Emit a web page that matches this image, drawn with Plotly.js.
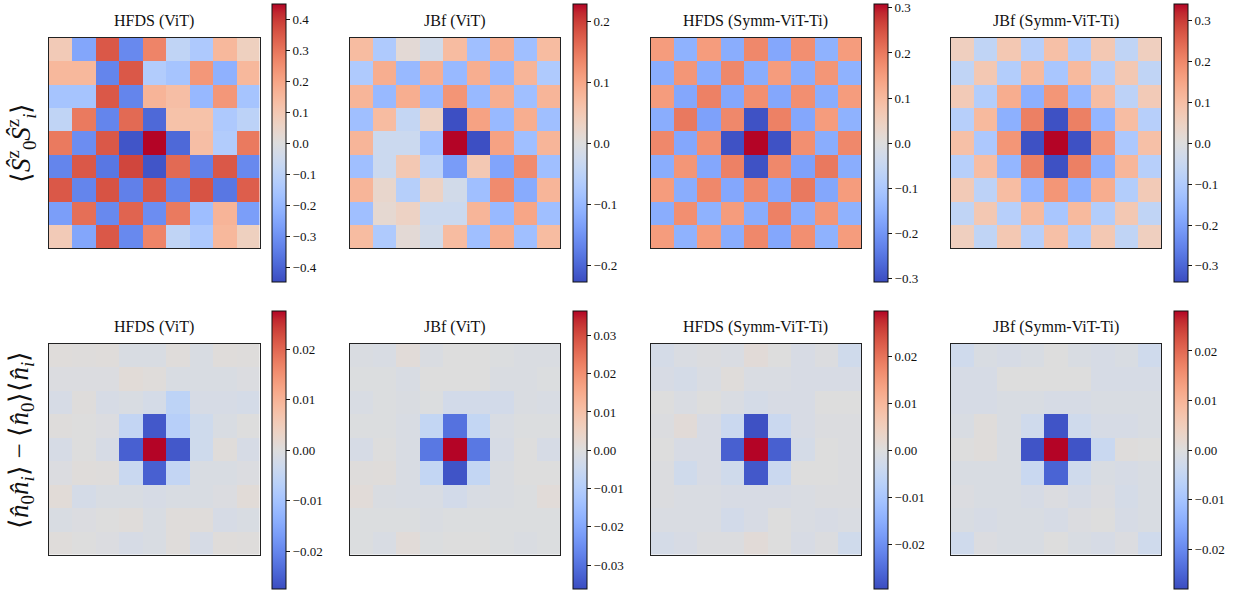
<!DOCTYPE html>
<html><head><meta charset="utf-8">
<script src="https://cdn.plot.ly/plotly-3.0.1.min.js"></script>
<style>body{margin:0;background:#fff}</style>
</head><body><div id="chart" style="width:1247px;height:590px"></div>
<script>
// ---- data ----
const panelTitles = ["HFDS (ViT)", "JBf (ViT)", "HFDS (Symm-ViT-Ti)", "JBf (Symm-ViT-Ti)"];
const rowLabels = ["⟨<i>Ŝ</i><sup>z</sup><sub>0</sub><i>Ŝ</i><sup>z</sup><sub><i>i</i></sub>⟩",
                   "⟨<i>n̂</i><sub>0</sub><i>n̂</i><sub><i>i</i></sub>⟩ − ⟨<i>n̂</i><sub>0</sub>⟩⟨<i>n̂</i><sub><i>i</i></sub>⟩"];

const szHFDSViT = [
 [0.09,-0.25,0.35,-0.32,0.27,-0.09,-0.14,0.15,0.07],
 [0.15,0.15,-0.33,0.35,-0.13,-0.16,0.23,-0.22,0.15],
 [-0.16,-0.16,0.35,-0.33,0.16,0.13,-0.20,0.23,-0.16],
 [-0.09,0.29,-0.33,0.32,-0.39,0.12,0.12,-0.14,-0.10],
 [0.29,-0.31,0.35,-0.43,0.449,-0.39,0.13,-0.13,0.29],
 [-0.33,0.35,-0.36,0.38,-0.43,0.32,-0.34,0.35,-0.32],
 [0.35,-0.33,0.36,-0.34,0.35,-0.33,0.36,-0.36,0.34],
 [-0.27,0.31,-0.32,0.33,-0.31,0.29,-0.18,0.16,-0.27],
 [0.09,-0.25,0.35,-0.32,0.27,-0.09,-0.14,0.15,0.07]
];
const szJBfViT = [
 [0.07,-0.07,0.01,-0.02,0.07,-0.09,0.09,-0.09,0.07],
 [-0.07,0.09,-0.10,0.09,-0.10,0.09,-0.10,0.08,-0.07],
 [0.08,-0.10,0.09,-0.10,0.12,-0.10,0.09,-0.09,0.08],
 [-0.09,0.07,-0.04,0.03,-0.225,0.105,-0.10,0.09,-0.09],
 [0.08,-0.03,-0.03,-0.09,0.228,-0.225,0.105,-0.09,0.08],
 [-0.09,-0.03,0.05,-0.05,-0.14,0.05,-0.13,0.13,-0.09],
 [0.08,0.02,-0.06,0.03,-0.02,-0.09,0.13,-0.12,0.08],
 [-0.09,0.014,0.03,-0.03,-0.03,0.08,-0.10,0.10,-0.09],
 [0.07,-0.07,0.01,-0.02,0.07,-0.09,0.09,-0.09,0.07]
];
const szHFDSSymm = [
 [0.15,-0.15,0.15,-0.16,0.18,-0.17,0.17,-0.15,0.15],
 [-0.16,0.16,-0.16,0.18,-0.16,0.15,-0.16,0.16,-0.15],
 [0.15,-0.17,0.19,-0.17,0.17,-0.17,0.17,-0.16,0.15],
 [-0.16,0.20,-0.18,0.18,-0.30,0.19,-0.17,0.15,-0.15],
 [0.18,-0.17,0.17,-0.30,0.308,-0.30,0.17,-0.16,0.18],
 [-0.16,0.16,-0.17,0.19,-0.30,0.18,-0.18,0.20,-0.16],
 [0.15,-0.16,0.18,-0.17,0.18,-0.17,0.20,-0.17,0.15],
 [-0.16,0.17,-0.15,0.15,-0.16,0.19,-0.16,0.16,-0.15],
 [0.15,-0.15,0.15,-0.16,0.18,-0.17,0.17,-0.15,0.15]
];
const szJBfSymm = [
 [0.054,-0.068,0.075,-0.088,0.095,-0.095,0.075,-0.068,0.054],
 [-0.068,0.075,-0.095,0.109,-0.116,0.109,-0.088,0.075,-0.068],
 [0.068,-0.095,0.136,-0.170,0.177,-0.150,0.102,-0.075,0.068],
 [-0.088,0.109,-0.170,0.211,-0.333,0.211,-0.156,0.102,-0.088],
 [0.095,-0.109,0.177,-0.333,0.340,-0.333,0.177,-0.109,0.095],
 [-0.088,0.102,-0.156,0.211,-0.333,0.211,-0.170,0.116,-0.088],
 [0.068,-0.075,0.102,-0.156,0.177,-0.170,0.136,-0.095,0.068],
 [-0.068,0.075,-0.088,0.109,-0.116,0.109,-0.095,0.075,-0.068],
 [0.054,-0.068,0.075,-0.088,0.095,-0.095,0.075,-0.068,0.054]
];
const nnHFDSViT = [
 [0.0005,0.0003,0.0005,-0.001,-0.001,0.0005,-0.001,0.0005,0.0003],
 [-0.0005,-0.0005,-0.0005,0.0008,0.0005,-0.001,-0.001,-0.001,-0.0005],
 [-0.0015,0.0003,-0.0015,-0.001,-0.002,-0.006,-0.0015,-0.0015,-0.002],
 [0.0003,0,-0.0005,-0.005,-0.026,-0.007,-0.003,-0.001,0],
 [-0.0015,0,-0.0015,-0.025,0.0275,-0.026,-0.003,0.0005,-0.0015],
 [-0.0005,0.0005,0.0003,-0.004,-0.025,-0.005,-0.001,-0.001,-0.0005],
 [0.0008,-0.002,-0.001,-0.001,-0.0015,-0.001,-0.001,-0.0005,0.0008],
 [-0.001,-0.0005,0,0.0005,-0.001,0.0005,0.0005,-0.0015,-0.001],
 [0.0005,0,-0.0005,-0.0015,-0.001,0.0005,-0.0015,0.0005,0.0003]
];
const nnJBfViT = [
 [-0.001,-0.0015,0.001,-0.001,0,0,-0.0005,-0.001,-0.001],
 [-0.0005,-0.0005,-0.0015,0,0,0,-0.001,-0.001,-0.0005],
 [-0.0015,-0.0005,-0.001,-0.0005,-0.003,-0.003,-0.003,-0.001,-0.0015],
 [-0.0005,-0.0005,-0.0015,-0.0065,-0.030,-0.0065,-0.0015,-0.0005,-0.0005],
 [-0.002,0,-0.0015,-0.029,0.0363,-0.029,-0.002,0,-0.002],
 [0.0003,0.0005,-0.0015,-0.0065,-0.035,-0.0065,-0.001,0,0],
 [0.001,-0.001,-0.0015,-0.0015,-0.003,-0.0015,-0.001,-0.0005,0.001],
 [-0.0005,-0.0005,-0.0005,-0.001,-0.0005,-0.0005,-0.0005,-0.0005,-0.0005],
 [-0.0005,-0.0015,0.001,-0.0005,0,0,-0.0005,-0.001,-0.0005]
];
const nnHFDSSymm = [
 [-0.002,-0.001,-0.0005,-0.001,0.001,0,-0.0015,-0.0005,-0.003],
 [-0.0015,-0.002,-0.001,0.0005,-0.001,-0.001,-0.0015,-0.0015,-0.0015],
 [0,-0.001,0,-0.001,-0.002,-0.0015,-0.0015,0,0],
 [-0.0005,0.001,-0.0015,-0.004,-0.029,-0.004,-0.0015,-0.0005,-0.0005],
 [0,-0.0015,-0.0015,-0.027,0.0296,-0.027,-0.002,0,-0.0005],
 [-0.0005,-0.003,-0.0015,-0.003,-0.028,-0.004,0,0,-0.0005],
 [-0.0005,-0.001,-0.001,-0.0015,-0.0015,-0.0015,-0.001,-0.0005,-0.0005],
 [-0.001,-0.001,-0.001,-0.0025,-0.0015,0,-0.001,-0.0015,-0.001],
 [-0.002,-0.0015,-0.0005,-0.0005,0.001,0,-0.0015,-0.0005,-0.003]
];
const nnJBfSymm = [
 [-0.003,-0.001,-0.0015,-0.001,0,-0.001,-0.0015,-0.001,-0.003],
 [-0.0015,-0.0015,0,0,0,0,-0.0015,-0.0015,-0.0015],
 [-0.0015,-0.0015,-0.001,-0.001,-0.0015,-0.0015,-0.001,-0.001,-0.001],
 [-0.001,0.0005,-0.001,-0.003,-0.027,-0.003,-0.0015,-0.0015,-0.001],
 [0,0.0005,-0.001,-0.027,0.028,-0.027,-0.004,0.0003,0],
 [-0.001,-0.001,-0.001,-0.004,-0.025,-0.003,-0.001,-0.0015,-0.001],
 [-0.0005,-0.001,-0.001,-0.0015,-0.0005,-0.0015,-0.0005,-0.002,-0.001],
 [-0.001,-0.0015,-0.001,-0.001,-0.0015,-0.0005,0,-0.0015,-0.001],
 [-0.003,-0.0005,-0.001,-0.001,0,-0.001,-0.0015,-0.0005,-0.003]
];
const panelData = [szHFDSViT, szJBfViT, szHFDSSymm, szJBfSymm, nnHFDSViT, nnJBfViT, nnHFDSSymm, nnJBfSymm];
const colorLimits = [0.449, 0.228, 0.308, 0.340, 0.0275, 0.0363, 0.0296, 0.0280];
const tickSteps = [0.1, 0.1, 0.1, 0.1, 0.01, 0.01, 0.01, 0.01];
const tickFormats = [".1f", ".1f", ".1f", ".1f", ".2f", ".2f", ".2f", ".2f"];

// ---- style ----
const W = 1247, H = 590;
const coolwarm = [
 [0,"rgb(59,76,192)"],[0.03125,"rgb(68,90,204)"],[0.0625,"rgb(77,104,215)"],[0.09375,"rgb(87,117,225)"],
 [0.125,"rgb(98,130,234)"],[0.15625,"rgb(108,142,241)"],[0.1875,"rgb(119,154,247)"],[0.21875,"rgb(130,165,251)"],
 [0.25,"rgb(141,176,254)"],[0.28125,"rgb(152,185,255)"],[0.3125,"rgb(163,194,255)"],[0.34375,"rgb(174,201,253)"],
 [0.375,"rgb(184,208,249)"],[0.40625,"rgb(194,213,244)"],[0.4375,"rgb(204,217,238)"],[0.46875,"rgb(213,219,230)"],
 [0.5,"rgb(221,221,221)"],[0.53125,"rgb(229,216,209)"],[0.5625,"rgb(236,211,197)"],[0.59375,"rgb(241,204,185)"],
 [0.625,"rgb(245,196,173)"],[0.65625,"rgb(247,187,160)"],[0.6875,"rgb(247,177,148)"],[0.71875,"rgb(247,166,135)"],
 [0.75,"rgb(244,154,123)"],[0.78125,"rgb(241,141,111)"],[0.8125,"rgb(236,127,99)"],[0.84375,"rgb(229,112,88)"],
 [0.875,"rgb(222,96,77)"],[0.90625,"rgb(213,80,66)"],[0.9375,"rgb(203,62,56)"],[0.96875,"rgb(192,40,47)"],
 [1,"rgb(180,4,38)"]
];
const panelLeft = [49, 349.5, 650.5, 950.5];
const panelSize = 210.5;
const rowTop = [37.7, 344];
const cbLeft = [272.3, 572.5, 873.5, 1173.5];
const cbTop = [4.5, 311.5];
const cbLen = 277.5;
const serif = "Liberation Serif, Times New Roman, serif";

const traces = [], layout = {
  width: W, height: H, margin: {l:0, r:0, t:0, b:0},
  paper_bgcolor: "#fff", plot_bgcolor: "#fff", showlegend: false, annotations: []
};
const idx = [0,1,2,3,4,5,6,7,8];
for (let k = 0; k < 8; k++) {
  const r = Math.floor(k / 4), c = k % 4;
  const ax = k === 0 ? "" : String(k + 1);
  const x0 = panelLeft[c] / W, x1 = (panelLeft[c] + panelSize) / W;
  const y1 = 1 - rowTop[r] / H, y0 = 1 - (rowTop[r] + panelSize) / H;
  const lim = colorLimits[k];
  traces.push({
    type: "heatmap", z: panelData[k], x: idx, y: idx,
    xaxis: "x" + ax, yaxis: "y" + ax,
    zmin: -lim, zmax: lim, colorscale: coolwarm, hoverinfo: "skip",
    colorbar: {
      x: cbLeft[c] / W, xanchor: "left", xref: "paper",
      y: 1 - (cbTop[r] + cbLen / 2) / H, yanchor: "middle", yref: "paper",
      len: cbLen, lenmode: "pixels", thickness: 14, thicknessmode: "pixels",
      xpad: 0, ypad: 0, outlinewidth: 1, outlinecolor: "#111",
      ticks: "outside", ticklen: 4, tickwidth: 1, tickcolor: "#111",
      dtick: tickSteps[k], tick0: 0, tickformat: tickFormats[k],
      tickfont: {family: serif, size: 13, color: "#111"}
    }
  });
  const axBase = {showgrid:false, zeroline:false, showticklabels:false, ticks:"",
                  showline:true, mirror:true, linecolor:"#222", linewidth:1};
  layout["xaxis" + ax] = Object.assign({}, axBase, {domain:[x0, x1], range:[-0.5, 8.5], anchor:"y" + ax});
  layout["yaxis" + ax] = Object.assign({}, axBase, {domain:[y0, y1], range:[8.5, -0.5], anchor:"x" + ax});
  layout.annotations.push({
    text: panelTitles[c], xref:"paper", yref:"paper",
    x: (x0 + x1) / 2, y: y1 + 6 / H, xanchor:"center", yanchor:"bottom", showarrow:false,
    font: {family: serif, size: 16, color:"#111"}
  });
}
layout.annotations.push({
  text: rowLabels[0], xref:"paper", yref:"paper", x: 21/W, y: 1 - 143/H,
  textangle: -90, showarrow:false, xanchor:"center", yanchor:"middle",
  font:{family: serif, size: 27, color:"#111"}
});
layout.annotations.push({
  text: rowLabels[1], xref:"paper", yref:"paper", x: 21/W, y: 1 - 440/H,
  textangle: -90, showarrow:false, xanchor:"center", yanchor:"middle",
  font:{family: serif, size: 27, color:"#111"}
});
Plotly.newPlot("chart", traces, layout, {displayModeBar:false, staticPlot:true});
</script></body></html>
